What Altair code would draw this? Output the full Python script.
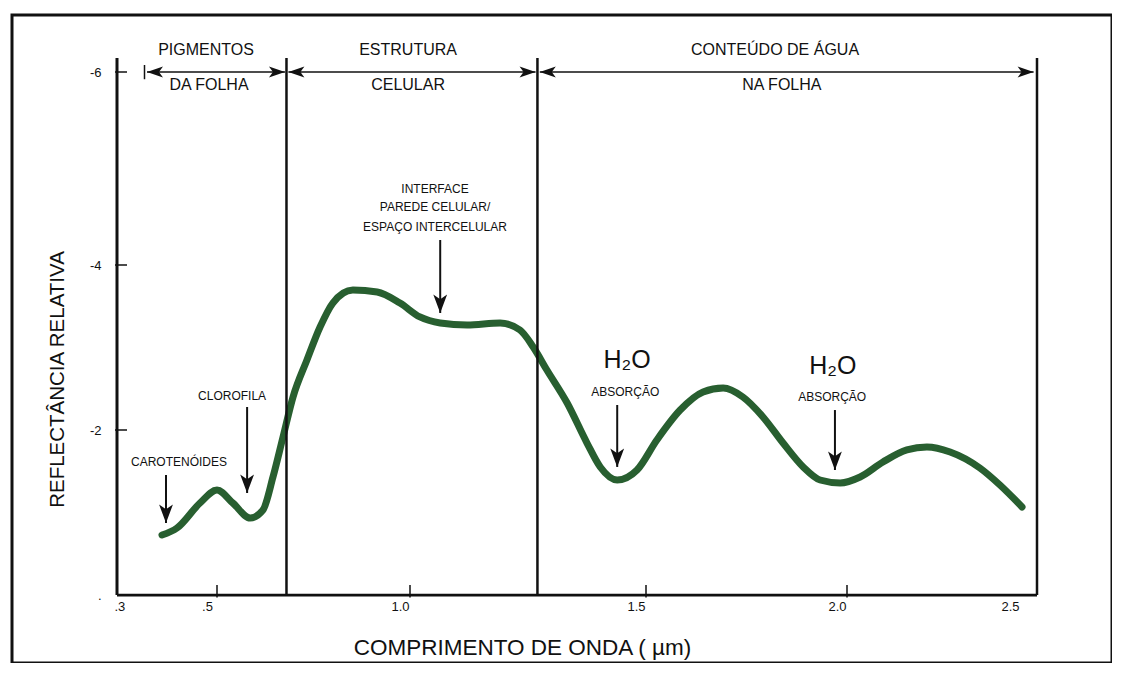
import altair as alt
import pandas as pd

# ---- curve (wavelength in µm, relative reflectance in axis units) ----
WAVELENGTH = [0.39, 0.42, 0.466, 0.5, 0.541, 0.586, 0.619, 0.645, 0.671, 0.697,
              0.733, 0.767, 0.80, 0.852, 0.915, 0.974, 1.021, 1.064, 1.121, 1.191,
              1.233, 1.261, 1.29, 1.333, 1.375, 1.403, 1.439, 1.481, 1.527, 1.585,
              1.642, 1.692, 1.741, 1.791, 1.841, 1.891, 1.933, 1.983, 2.038, 2.104,
              2.173, 2.231, 2.298, 2.384, 2.442, 2.506]
REFLECTANCE = [0.727, 0.812, 1.115, 1.273, 1.115, 0.933, 1.03, 1.43, 1.915, 2.4,
               2.848, 3.248, 3.539, 3.697, 3.673, 3.539, 3.37, 3.297, 3.273, 3.297,
               3.212, 3.006, 2.727, 2.327, 1.842, 1.552, 1.394, 1.515, 1.879, 2.242,
               2.461, 2.509, 2.4, 2.158, 1.842, 1.552, 1.394, 1.358, 1.43, 1.612,
               1.758, 1.794, 1.733, 1.539, 1.333, 1.067]

# ---- axes ----
X_TICKS = [0.3, 0.5, 1.0, 1.5, 2.0, 2.5]
X_TICK_LABELS = [".3", ".5", "1.0", "1.5", "2.0", "2.5"]
X_TICK_MARKS = [0.5, 1.0, 1.5, 2.0]
Y_TICKS = [0, 2, 4, 6]
Y_TICK_LABELS = [".", "-2", "-4", "-6"]
Y_TICK_MARKS = [2, 4, 6]
X_MIN, X_MAX = 0.3, 2.55
Y_MIN, Y_MAX = 0.0, 6.15

# ---- regions ----
SEPARATORS = [0.68, 1.27, 2.55]
SPAN_START = [0.36, 0.685, 1.275]
SPAN_END = [0.676, 1.266, 2.54]
SPAN_LEVEL = 6.0
HEADER_TOP = ["PIGMENTOS", "ESTRUTURA", "CONTEÚDO DE ÁGUA"]
HEADER_TOP_X = [0.478, 0.995, 1.821]
HEADER_TOP_Y = 6.236
HEADER_BOTTOM = ["DA FOLHA", "CELULAR", "NA FOLHA"]
HEADER_BOTTOM_X = [0.484, 0.995, 1.838]
HEADER_BOTTOM_Y = 5.865

# ---- annotations ----
NOTE_TEXT = ["CAROTENÓIDES", "CLOROFILA", "INTERFACE", "PAREDE CELULAR/", "ESPAÇO INTERCELULAR"]
NOTE_X = [0.424, 0.539, 1.053, 1.053, 1.053]
NOTE_Y = [1.612, 2.412, 4.788, 4.601, 4.394]
WATER_TEXT = ["H₂O", "H₂O"]
WATER_X = [1.46, 1.965]
WATER_Y = [2.848, 2.776]
ABS_TEXT = ["ABSORÇÃO", "ABSORÇÃO"]
ABS_X = [1.456, 1.963]
ABS_Y = [2.461, 2.4]
ARROW_X = [0.398, 0.578, 1.064, 1.439, 1.970]
ARROW_TOP = [1.455, 2.279, 4.259, 2.303, 2.242]
ARROW_TIP = [0.873, 1.236, 3.418, 1.552, 1.515]

TITLE_X = "COMPRIMENTO DE ONDA ( µm)"
TITLE_Y = "REFLECTÂNCIA RELATIVA"

# ---- layout (hand-drawn, piecewise axes) ----
W, H = 1100, 648
XD = [0.3, 0.5, 1.0, 1.5, 2.0, 2.5, 2.55]
XR = [105, 205, 398, 634, 835, 1008, 1025]
YD = [0, 2, 4, 6, 6.15]
YR = [580, 415, 250, 57, 43]
FONT = "Liberation Sans"
INK = "#111111"
GREEN = "#285f30"

xs = alt.Scale(domain=XD, range=XR, nice=False, zero=False)
ys = alt.Scale(domain=YD, range=YR, nice=False, zero=False)

x_label_expr = "[" + ",".join("'%s'" % s for s in X_TICK_LABELS) + "][indexof([" + \
    ",".join(str(v) for v in X_TICKS) + "], datum.value)]"
y_label_expr = "[" + ",".join("'%s'" % s for s in Y_TICK_LABELS) + "][indexof([" + \
    ",".join(str(v) for v in Y_TICKS) + "], datum.value)]"

AX = alt.Axis(
    values=X_TICKS, labelExpr=x_label_expr, offset=-(H - 580), domain=False, ticks=False,
    grid=False, labelPadding=5, labelFontSize=13, labelFont=FONT, labelColor=INK,
    labelOffset={"condition": {"test": "datum.value < 0.4", "value": -3}, "value": -10},
    title=TITLE_X, titleFont=FONT, titleFontSize=22.5, titleFontWeight="normal",
    titleColor=INK, titleX=510, titleY=52, titleAlign="center", titleBaseline="middle")
AY = alt.Axis(
    values=Y_TICKS, labelExpr=y_label_expr, offset=-105, domain=False, ticks=False,
    grid=False, labelPadding=16, labelFontSize=13, labelFont=FONT, labelColor=INK,
    title=TITLE_Y, titleFont=FONT, titleFontSize=20.5, titleFontWeight="normal",
    titleColor=INK, titleX=-60, titleY=364, titleAngle=270, titleAlign="center",
    titleBaseline="middle")


def X(field):
    return alt.X(field, type="quantitative", scale=xs, axis=AX)


def Y(field):
    return alt.Y(field, type="quantitative", scale=ys, axis=AY)


curve_df = pd.DataFrame({"w": WAVELENGTH, "r": REFLECTANCE})
curve = alt.Chart(curve_df).mark_line(
    color=GREEN, strokeWidth=7, strokeCap="round", strokeJoin="round", interpolate="monotone"
).encode(x=X("w"), y=Y("r"))

# axis lines and section separators
frame_df = pd.DataFrame({
    "x": [X_MIN, X_MIN] + SEPARATORS,
    "x2": [X_MIN, X_MAX] + SEPARATORS,
    "y": [Y_MIN] * 5,
    "y2": [Y_MAX, Y_MIN] + [Y_MAX] * 3,
    "kind": ["yaxis", "xaxis", "sep", "sep", "sep"],
})
frame = alt.Chart(frame_df).mark_rule(color=INK).encode(
    x=X("x"), x2="x2", y=Y("y"), y2="y2",
    strokeWidth=alt.StrokeWidth("kind:N", scale=alt.Scale(
        domain=["yaxis", "xaxis", "sep"], range=[3, 2.5, 2]), legend=None),
)

xtick_df = pd.DataFrame({"x": X_TICK_MARKS, "y": [-0.03] * 4, "y2": [0.12] * 4})
xticks = alt.Chart(xtick_df).mark_rule(color=INK, strokeWidth=1.5).encode(
    x=X("x"), y=Y("y"), y2="y2")
ytick_df = pd.DataFrame({"y": Y_TICK_MARKS, "x": [0.296] * 3, "x2": [0.32] * 3})
yticks = alt.Chart(ytick_df).mark_rule(color=INK, strokeWidth=1.5).encode(
    x=X("x"), x2="x2", y=Y("y"))

# header spans with arrowheads
span_df = pd.DataFrame({"s": SPAN_START, "e": SPAN_END, "y": [SPAN_LEVEL] * 3})
spans = alt.Chart(span_df).mark_rule(color=INK, strokeWidth=1.5).encode(
    x=X("s"), x2="e", y=Y("y"))
RIGHT_HEAD = "M0,0L-2,-0.7L-1.5,0L-2,0.7Z"
LEFT_HEAD = "M0,0L2,-0.7L1.5,0L2,0.7Z"
DOWN_HEAD = "M0,0L-0.75,-2L0,-1.5L0.75,-2Z"
right_heads = alt.Chart(span_df).mark_point(
    shape=RIGHT_HEAD, filled=True, color=INK, size=256, opacity=1).encode(x=X("e"), y=Y("y"))
left_heads = alt.Chart(span_df).mark_point(
    shape=LEFT_HEAD, filled=True, color=INK, size=256, opacity=1).encode(x=X("s"), y=Y("y"))
bar_df = pd.DataFrame({"x": [SPAN_START[0] - 0.005], "y": [SPAN_LEVEL - 0.075],
                       "y2": [SPAN_LEVEL + 0.075]})
start_bar = alt.Chart(bar_df).mark_rule(color=INK, strokeWidth=1.5).encode(
    x=X("x"), y=Y("y"), y2="y2")

header_top_df = pd.DataFrame({"t": HEADER_TOP, "x": HEADER_TOP_X, "y": [HEADER_TOP_Y] * 3})
header_bot_df = pd.DataFrame({"t": HEADER_BOTTOM, "x": HEADER_BOTTOM_X, "y": [HEADER_BOTTOM_Y] * 3})
text_style = dict(font=FONT, color=INK, align="center", baseline="middle")
header_top = alt.Chart(header_top_df).mark_text(fontSize=16, **text_style).encode(
    x=X("x"), y=Y("y"), text="t")
header_bot = alt.Chart(header_bot_df).mark_text(fontSize=16, **text_style).encode(
    x=X("x"), y=Y("y"), text="t")

# annotation arrows
arrow_df = pd.DataFrame({"x": ARROW_X, "top": ARROW_TOP, "tip": ARROW_TIP})
shafts = alt.Chart(arrow_df).mark_rule(color=INK, strokeWidth=2).encode(
    x=X("x"), y=Y("top"), y2="tip")
down_heads = alt.Chart(arrow_df).mark_point(
    shape=DOWN_HEAD, filled=True, color=INK, size=340, opacity=1).encode(x=X("x"), y=Y("tip"))

note_df = pd.DataFrame({"t": NOTE_TEXT, "x": NOTE_X, "y": NOTE_Y})
notes = alt.Chart(note_df).mark_text(fontSize=12, **text_style).encode(
    x=X("x"), y=Y("y"), text="t")
water_df = pd.DataFrame({"t": WATER_TEXT, "x": WATER_X, "y": WATER_Y})
water = alt.Chart(water_df).mark_text(fontSize=25, **text_style).encode(
    x=X("x"), y=Y("y"), text="t")
abs_df = pd.DataFrame({"t": ABS_TEXT, "x": ABS_X, "y": ABS_Y})
absorb = alt.Chart(abs_df).mark_text(fontSize=12, **text_style).encode(
    x=X("x"), y=Y("y"), text="t")

chart = alt.layer(
    curve, frame, xticks, yticks, spans, start_bar, right_heads, left_heads,
    header_top, header_bot, shafts, down_heads, notes, water, absorb,
).properties(
    width=W, height=H, padding={"left": 4, "top": 7, "right": 0, "bottom": 0},
    background="white",
).configure_view(stroke=INK, strokeWidth=3)

chart.save("out.html", embed_options={"renderer": "svg", "actions": False})
